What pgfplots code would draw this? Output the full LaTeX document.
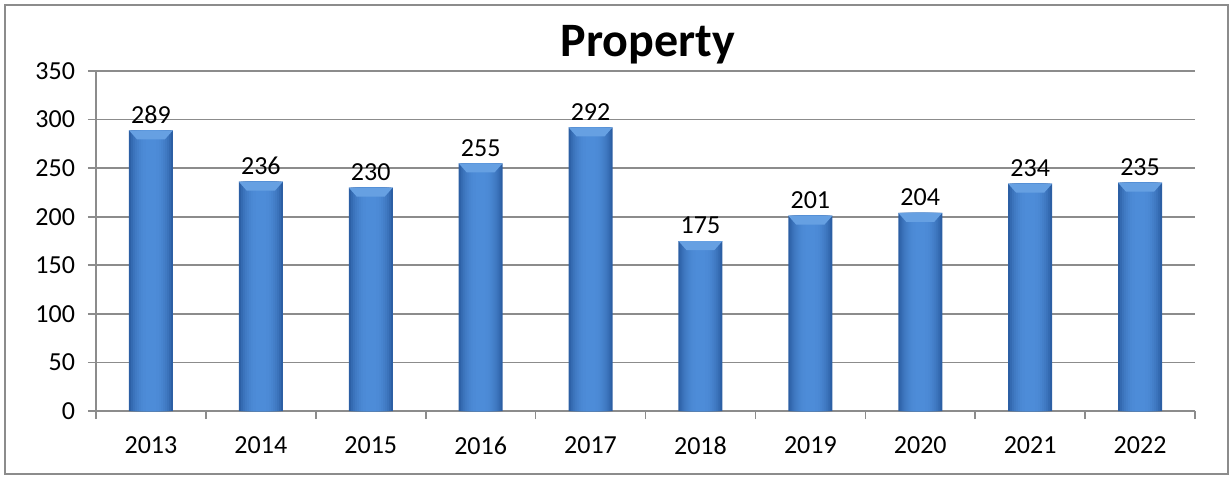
\documentclass[border=0pt]{standalone}
\usepackage{pgfplots}
\usepackage{pgfplotstable}
\pgfplotsset{compat=1.18}
\usepackage{fontspec}
\setmainfont{Carlito}
\definecolor{barmid}{HTML}{4D8CD8}
\definecolor{baredge}{HTML}{2C5FA4}
\definecolor{bevel}{HTML}{66A0E2}
\definecolor{gridgray}{HTML}{8C8C8C}

\pgfplotstableread{
x y
0 289
1 236
2 230
3 255
4 292
5 175
6 201
7 204
8 234
9 235
}\propdata

% bevel on the top of each bar
\pgfdeclareplotmark{bevel}{%
  \pgfpathmoveto{\pgfqpoint{-11pt}{0pt}}%
  \pgfpathlineto{\pgfqpoint{11pt}{0pt}}%
  \pgfpathlineto{\pgfqpoint{7pt}{-4.5pt}}%
  \pgfpathlineto{\pgfqpoint{-7pt}{-4.5pt}}%
  \pgfpathclose
  \pgfusepath{fill}%
}

\newcommand{\layer}[2]{%
  \addplot[ybar, bar shift=0pt, bar width=#1, draw=none, fill=barmid!#2!baredge]
    table[x=x, y=y] {\propdata};
}

\begin{document}
\begin{tikzpicture}
\useasboundingbox (-48pt,-33pt) rectangle (567.5pt,205.5pt);
\draw[gridgray, line width=0.8pt] (-45.5pt,-31.5pt) rectangle (566pt,203pt);
\begin{axis}[
    scale only axis,
    width=549.5pt, height=170pt,
    xmin=-0.5, xmax=9.5,
    ymin=0, ymax=350,
    ytick={0,50,...,350},
    xtick={-0.5,0.5,...,9.5},
    xticklabels={},
    extra x ticks={0,...,9},
    extra x tick labels={2013,2014,2015,2016,2017,2018,2019,2020,2021,2022},
    extra x tick style={major tick length=0pt},
    axis x line*=bottom, axis y line*=left,
    axis line style={gridgray, line width=0.8pt, -},
    tick align=outside,
    major tick length=4pt,
    tick style={gridgray, line width=0.8pt},
    ymajorgrids,
    grid style={gridgray, line width=0.8pt},
    tick label style={font=\fontsize{13}{15}\selectfont, text=black},
    xticklabel style={yshift=-9.5pt},
    yticklabel style={xshift=-3pt},
    /pgf/number format/assume math mode=true,
    clip=false,
]
\addplot[ybar, bar shift=0pt, bar width=22pt, draw=none, fill=baredge,
    nodes near coords,
    every node near coord/.append style={font=\fontsize{13}{15}\selectfont, text=black},
] table[x=x, y=y] {\propdata};
\layer{20pt}{25}
\layer{18pt}{45}
\layer{16pt}{60}
\layer{14pt}{72}
\layer{12pt}{82}
\layer{10pt}{90}
\layer{8pt}{96}
\layer{5pt}{100}
\addplot[only marks, mark=bevel, color=bevel] table[x=x, y=y] {\propdata};
\end{axis}
\node[anchor=base, font=\fontsize{24}{28}\selectfont\bfseries] at (276pt,177pt) {Property};
\end{tikzpicture}
\end{document}
